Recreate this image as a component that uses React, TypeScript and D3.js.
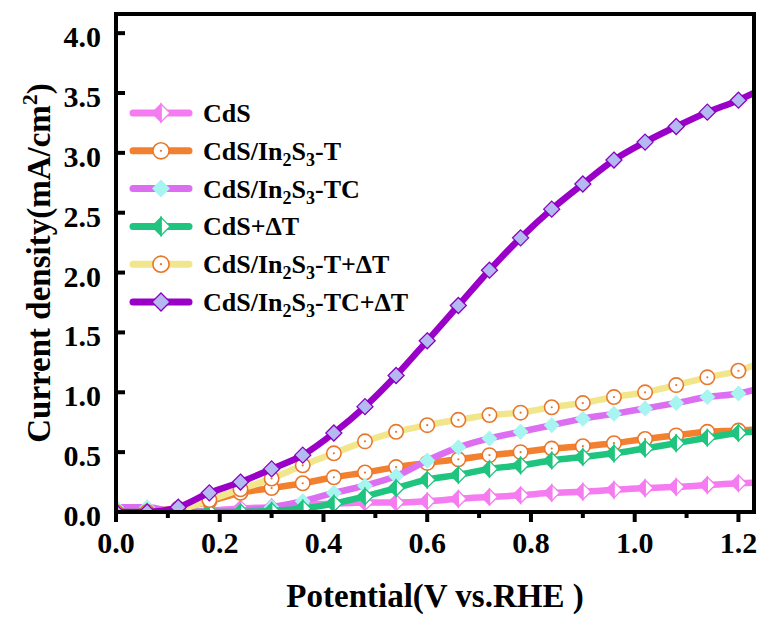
import React from "react";
import * as d3 from "d3";

const potentials = [0, 0.06, 0.12, 0.18, 0.24, 0.3, 0.36, 0.42, 0.48, 0.54, 0.6, 0.66, 0.72, 0.78, 0.84, 0.9, 0.96, 1.02, 1.08, 1.14, 1.2, 1.23];

const cdsValues = [0, 0, 0, 0.01, 0.03, 0.04, 0.06, 0.07, 0.08, 0.08, 0.09, 0.11, 0.125, 0.14, 0.16, 0.17, 0.185, 0.2, 0.21, 0.225, 0.24, 0.245];
const tValues = [0, 0.01, 0.03, 0.09, 0.16, 0.2, 0.24, 0.29, 0.33, 0.375, 0.41, 0.44, 0.475, 0.5, 0.53, 0.55, 0.575, 0.61, 0.64, 0.67, 0.68, 0.69];
const tcValues = [0.04, 0.04, 0.0, 0.0, 0.01, 0.04, 0.09, 0.16, 0.22, 0.3, 0.43, 0.54, 0.615, 0.67, 0.725, 0.78, 0.82, 0.865, 0.91, 0.96, 0.99, 1.02];
const cdsDtValues = [0, 0, 0, 0, 0, 0.01, 0.03, 0.07, 0.13, 0.2, 0.27, 0.31, 0.36, 0.39, 0.43, 0.46, 0.49, 0.53, 0.575, 0.62, 0.66, 0.67];
const tDtValues = [0, 0, 0.02, 0.1, 0.19, 0.28, 0.39, 0.49, 0.59, 0.67, 0.725, 0.77, 0.81, 0.83, 0.875, 0.91, 0.96, 1.0, 1.06, 1.125, 1.18, 1.225];
const tcDtValues = [0, 0, 0.04, 0.16, 0.25, 0.36, 0.475, 0.66, 0.88, 1.14, 1.43, 1.725, 2.02, 2.29, 2.53, 2.74, 2.94, 3.09, 3.22, 3.34, 3.44, 3.5];

const xTicks = [0, 0.2, 0.4, 0.6, 0.8, 1.0, 1.2];
const xMinorTicks = [0.1, 0.3, 0.5, 0.7, 0.9, 1.1];
const yTicks = [0, 0.5, 1.0, 1.5, 2.0, 2.5, 3.0, 3.5, 4.0];

type Marker = "half" | "circle" | "diamond";
interface Series {
  key: string;
  parts: { t: string; sub?: boolean }[];
  values: number[];
  line: string;
  marker: Marker;
  fill: string;
  stroke: string;
}

const series: Series[] = [
  { key: "cds", parts: [{ t: "CdS" }], values: cdsValues, line: "#F47CF0", marker: "half", fill: "#F47CF0", stroke: "#F47CF0" },
  { key: "t", parts: [{ t: "CdS/In" }, { t: "2", sub: true }, { t: "S" }, { t: "3", sub: true }, { t: "-T" }], values: tValues, line: "#F2802F", marker: "circle", fill: "#FFFFFF", stroke: "#E8772C" },
  { key: "tc", parts: [{ t: "CdS/In" }, { t: "2", sub: true }, { t: "S" }, { t: "3", sub: true }, { t: "-TC" }], values: tcValues, line: "#DC6EF2", marker: "diamond", fill: "#A8F4F0", stroke: "none" },
  { key: "cdsdt", parts: [{ t: "CdS+ΔT" }], values: cdsDtValues, line: "#1FC47F", marker: "half", fill: "#1FC47F", stroke: "#1FC47F" },
  { key: "tdt", parts: [{ t: "CdS/In" }, { t: "2", sub: true }, { t: "S" }, { t: "3", sub: true }, { t: "-T+ΔT" }], values: tDtValues, line: "#F2E68C", marker: "circle", fill: "#FFFFFF", stroke: "#E8772C" },
  { key: "tcdt", parts: [{ t: "CdS/In" }, { t: "2", sub: true }, { t: "S" }, { t: "3", sub: true }, { t: "-TC+ΔT" }], values: tcDtValues, line: "#9A00C8", marker: "diamond", fill: "#B4B9F2", stroke: "#8A00BE" },
];

const W = 761, H = 617;
const left = 116, right = 754, top = 14, bottom = 512;
const FONT = "'Liberation Serif', 'Times New Roman', serif";

function MarkerShape({ s, x, y, size }: { s: Series; x: number; y: number; size: number }) {
  const h = size / 2;
  if (s.marker === "circle") {
    return (
      <g>
        <circle cx={x} cy={y} r={h * 0.9} fill={s.fill} stroke={s.stroke} strokeWidth={1.6} />
        <circle cx={x} cy={y} r={1.1} fill={s.stroke} />
      </g>
    );
  }
  if (s.marker === "diamond") {
    return (
      <path
        d={`M${x},${y - h}L${x + h},${y}L${x},${y + h}L${x - h},${y}Z`}
        fill={s.fill}
        stroke={s.stroke}
        strokeWidth={1.3}
      />
    );
  }
  return (
    <g>
      <path d={`M${x},${y - h}L${x + h},${y}L${x},${y + h}Z`} fill="#FFFFFF" stroke={s.stroke} strokeWidth={1.3} />
      <path d={`M${x},${y - h}L${x - h},${y}L${x},${y + h}Z`} fill={s.fill} stroke={s.stroke} strokeWidth={1.3} />
    </g>
  );
}

export default function App() {
  const x = d3.scaleLinear().domain([0, 1.23]).range([left, right]);
  const y = d3.scaleLinear().domain([0, 4.16]).range([bottom, top]);
  const lineGen = d3
    .line<[number, number]>()
    .x((d) => x(d[0]))
    .y((d) => y(d[1]))
    .curve(d3.curveMonotoneX);

  const legendY0 = 113;
  const legendStep = 37.8;

  return (
    <svg width={W} height={H} style={{ position: "absolute", left: 0, top: 0, background: "#fff" }} fontFamily={FONT}>
      <defs>
        <clipPath id="plotclip">
          <rect x={left} y={top} width={right - left} height={bottom - top} />
        </clipPath>
      </defs>
      <rect x={0} y={0} width={W} height={H} fill="#fff" />

      <g clipPath="url(#plotclip)">
        {series.map((s) => {
          const pts: [number, number][] = potentials.map((p, i) => [p, s.values[i]]);
          return (
            <g key={s.key}>
              <path d={lineGen(pts) || ""} fill="none" stroke={s.line} strokeWidth={6.5} strokeLinejoin="round" />
              {pts
                .filter((p) => p[0] <= 1.2 + 1e-9)
                .map((p, i) => (
                  <MarkerShape key={i} s={s} x={x(p[0])} y={y(p[1])} size={16} />
                ))}
            </g>
          );
        })}
      </g>

      {/* legend */}
      {series.map((s, i) => {
        const ly = legendY0 + i * legendStep;
        return (
          <g key={"lg" + s.key}>
            <line x1={133} x2={189} y1={ly} y2={ly} stroke={s.line} strokeWidth={7} strokeLinecap="round" />
            <MarkerShape s={s} x={161} y={ly} size={18} />
            <text x={203} y={ly + 9} fontSize={26} fontWeight="bold" fill="#000">
              {s.parts.map((p, j) =>
                p.sub ? (
                  <tspan key={j} fontSize={18} dy={6}>
                    {p.t}
                  </tspan>
                ) : (
                  <tspan key={j} dy={j > 0 && s.parts[j - 1].sub ? -6 : 0}>
                    {p.t}
                  </tspan>
                )
              )}
            </text>
          </g>
        );
      })}

      {/* frame */}
      <rect x={left} y={top} width={right - left} height={bottom - top} fill="none" stroke="#000" strokeWidth={4} />

      {/* x ticks */}
      {xTicks.map((t) => (
        <g key={"xt" + t}>
          <line x1={x(t)} x2={x(t)} y1={bottom} y2={bottom + 10} stroke="#000" strokeWidth={4} />
          <text x={x(t)} y={553} textAnchor="middle" fontSize={30} fontWeight="bold">
            {t.toFixed(1)}
          </text>
        </g>
      ))}
      {xMinorTicks.map((t) => (
        <line key={"xm" + t} x1={x(t)} x2={x(t)} y1={bottom} y2={bottom + 6} stroke="#000" strokeWidth={4} />
      ))}

      {/* y ticks */}
      {yTicks.map((t) => (
        <g key={"yt" + t}>
          {t > 0 && <line x1={left} x2={left + 9} y1={y(t)} y2={y(t)} stroke="#000" strokeWidth={4} />}
          <text x={101} y={y(t) + 14} textAnchor="end" fontSize={30} fontWeight="bold">
            {t.toFixed(1)}
          </text>
        </g>
      ))}

      {/* axis titles */}
      <text x={(left + right) / 2} y={607} textAnchor="middle" fontSize={33} fontWeight="bold">
        Potential(V vs.RHE )
      </text>
      <text
        transform={`translate(50,${(top + bottom) / 2}) rotate(-90)`}
        textAnchor="middle"
        fontSize={33}
        fontWeight="bold"
      >
        Current density(mA/cm<tspan fontSize={22} dy={-13}>2</tspan>
        <tspan dy={13}>)</tspan>
      </text>
    </svg>
  );
}
